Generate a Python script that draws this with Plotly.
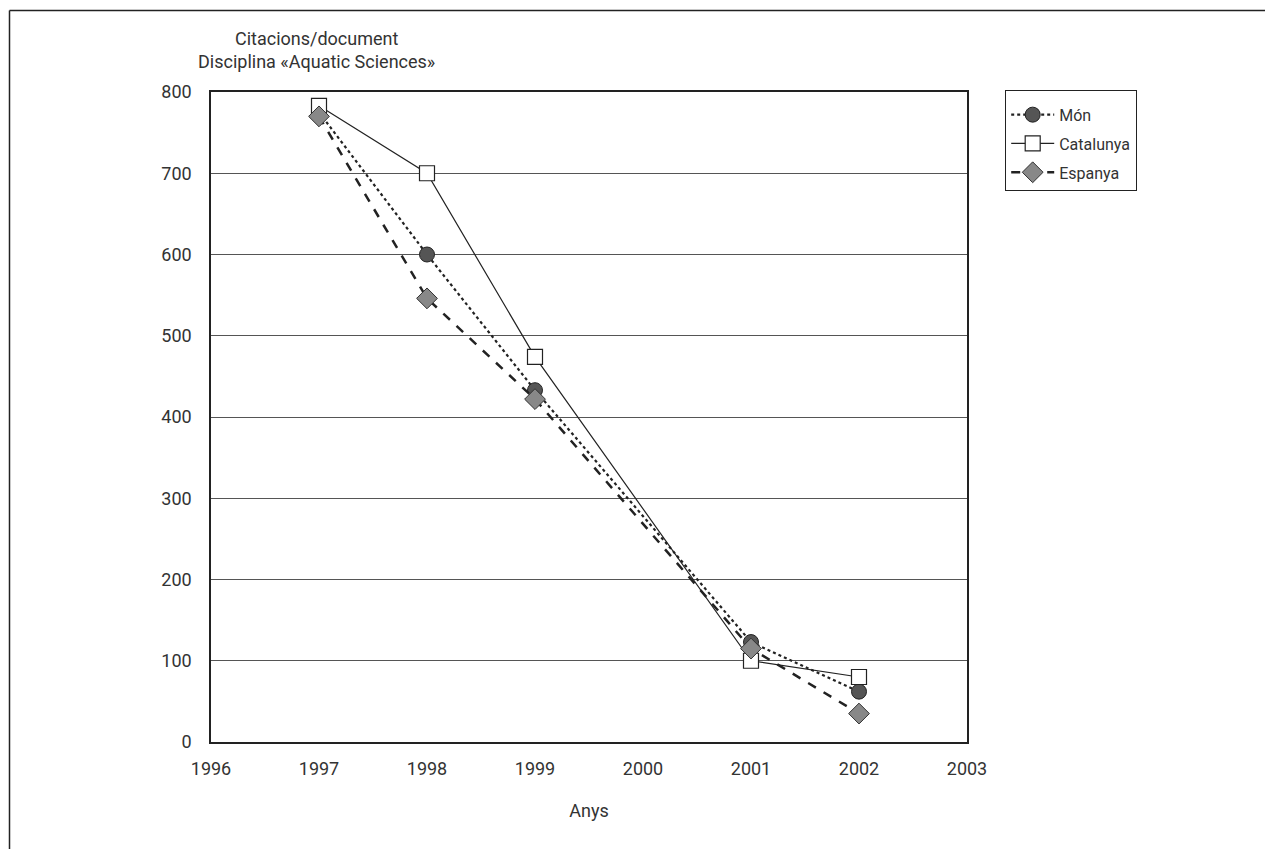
import plotly.graph_objects as go

years = [1997, 1998, 1999, 2001, 2002]
mon = [775, 600, 433, 123, 62]
catalunya = [783, 700, 474, 100, 80]
espanya = [770, 546, 422, 115, 35]

x_ticks = [1996, 1997, 1998, 1999, 2000, 2001, 2002, 2003]
y_ticks = [0, 100, 200, 300, 400, 500, 600, 700, 800]

FONT = "Roboto"
TXT = "#333333"

fig = go.Figure()
fig.add_trace(go.Scatter(
    x=years, y=mon, name="Món", mode="lines+markers", legendgroup="a",
    line=dict(color="#222222", width=2.2, dash="dot"),
    marker=dict(symbol="circle", size=15, color="#555555",
                line=dict(color="#222222", width=1)),
))
fig.add_trace(go.Scatter(
    x=years, y=catalunya, name="Catalunya", mode="lines+markers", legendgroup="b",
    line=dict(color="#222222", width=1.2, dash="solid"),
    marker=dict(symbol="square", size=15, color="#ffffff",
                line=dict(color="#222222", width=1.2)),
))
fig.add_trace(go.Scatter(
    x=years, y=espanya, name="Espanya", mode="lines+markers", legendgroup="c",
    line=dict(color="#222222", width=2.5, dash="dash"),
    marker=dict(symbol="diamond", size=16, color="#888888",
                line=dict(color="#333333", width=1)),
))

fig.update_layout(
    width=1265, height=849,
    margin=dict(l=211, r=298, t=92, b=107),
    paper_bgcolor="white", plot_bgcolor="white",
    font=dict(family=FONT, size=18, color=TXT),
    showlegend=True,
    legend=dict(
        x=(1005 - 211) / 756, y=1.003, xanchor="left", yanchor="top",
        bordercolor="#222222", borderwidth=1.2, bgcolor="white",
        font=dict(family=FONT, size=16, color=TXT),
        tracegroupgap=5, itemwidth=43,
        title=dict(text=" ", font=dict(size=5)),
    ),
    xaxis=dict(
        range=[1996, 2003], tickmode="array", tickvals=x_ticks,
        ticktext=[str(v) for v in x_ticks],
        showgrid=False, zeroline=False,
        showline=True, linecolor="#222222", linewidth=1.5, mirror=True,
        ticks="", ticklabelstandoff=10,
        tickfont=dict(family=FONT, size=18, color=TXT),
        title=dict(text="Anys", font=dict(family=FONT, size=18, color=TXT), standoff=26),
    ),
    yaxis=dict(
        range=[0, 800], tickmode="array", tickvals=y_ticks,
        ticktext=[str(v) for v in y_ticks],
        showgrid=True, gridcolor="#555555", gridwidth=1.3, zeroline=False,
        showline=True, linecolor="#222222", linewidth=1.5, mirror=True,
        ticks="", ticklabelstandoff=14,
        tickfont=dict(family=FONT, size=18, color=TXT),
    ),
    annotations=[
        dict(text="Citacions/document<br>Disciplina «Aquatic Sciences»",
             xref="paper", yref="paper", x=(316 - 211) / 756, y=(742 - 74) / 650,
             xanchor="center", yanchor="bottom", showarrow=False, align="center",
             font=dict(family=FONT, size=18, color=TXT)),
    ],
    shapes=[
        dict(type="line", xref="paper", yref="paper",
             x0=(9.5 - 211) / 756, x1=(1270 - 211) / 756,
             y0=(742 - 10.5) / 650, y1=(742 - 10.5) / 650,
             line=dict(color="#222222", width=1.5)),
        dict(type="line", xref="paper", yref="paper",
             x0=(9.5 - 211) / 756, x1=(9.5 - 211) / 756,
             y0=(742 - 10.5) / 650, y1=(742 - 860) / 650,
             line=dict(color="#222222", width=1.5)),
    ],
)

fig.write_html("out.html", config={"displayModeBar": False},
               post_script="document.body.style.margin='0px';document.body.style.overflow='hidden';")
